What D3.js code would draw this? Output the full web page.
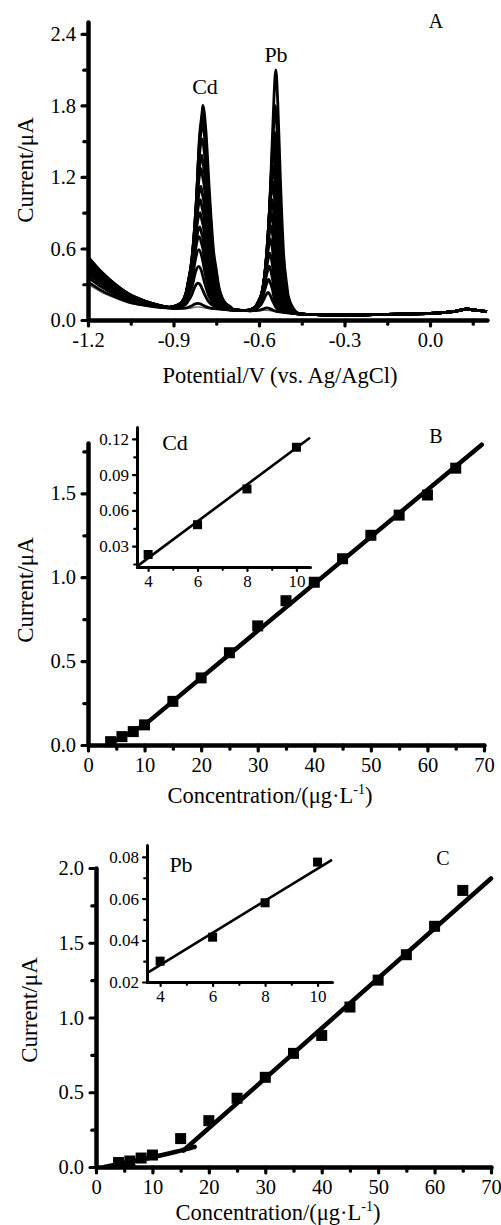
<!DOCTYPE html>
<html>
<head>
<meta charset="utf-8">
<script src="https://cdn.jsdelivr.net/npm/d3@7"></script>
<style>
  body { margin: 0; background: #fff; }
  svg text { font-family: "Liberation Serif", "Times New Roman", serif; fill: #000; }
</style>
</head>
<body>
<svg id="chart" width="501" height="1225"></svg>
<script>
// ---- panel A: stripping voltammograms (blank + 15 additions) ----
const blankCurve = [[-1.2, 0.30], [-1.15, 0.23], [-1.1, 0.18], [-1.05, 0.14], [-1.0, 0.12], [-0.95, 0.105],
  [-0.9, 0.095], [-0.85, 0.09], [-0.8, 0.09], [-0.75, 0.09], [-0.7, 0.085], [-0.65, 0.08], [-0.6, 0.075],
  [-0.55, 0.07], [-0.5, 0.06], [-0.45, 0.05], [-0.4, 0.045], [-0.3, 0.04], [-0.2, 0.045], [-0.1, 0.05],
  [0.0, 0.055], [0.08, 0.07], [0.13, 0.09], [0.17, 0.08], [0.2, 0.07]]
const tailShape = [[-1.2, 1], [-1.15, 0.72], [-1.1, 0.48], [-1.05, 0.3], [-1.0, 0.17], [-0.95, 0.08], [-0.9, 0.03], [-0.85, 0]]
const cdProfile = [[-0.11, 0], [-0.075, 0.03], [-0.055, 0.1], [-0.038, 0.25], [-0.022, 0.55], [-0.011, 0.86], [0, 1],
  [0.011, 0.87], [0.022, 0.6], [0.038, 0.28], [0.055, 0.12], [0.075, 0.04], [0.11, 0]]
const pbProfile = [[-0.085, 0], [-0.058, 0.04], [-0.042, 0.11], [-0.027, 0.3], [-0.016, 0.6], [-0.007, 0.87], [0, 1],
  [0.007, 0.86], [0.016, 0.55], [0.027, 0.25], [0.042, 0.08], [0.062, 0.02], [0.085, 0]]
const cdPeakV = [-0.815, -0.815, -0.814, -0.812, -0.811, -0.81, -0.808, -0.807, -0.806, -0.804, -0.803, -0.801, -0.8, -0.799, -0.798, -0.797]
const cdPeakI = [0.02, 0.05, 0.22, 0.36, 0.5, 0.61, 0.69, 0.81, 0.92, 1.03, 1.18, 1.29, 1.43, 1.57, 1.64, 1.71]
const pbPeakV = [-0.572, -0.571, -0.568, -0.566, -0.564, -0.562, -0.56, -0.558, -0.556, -0.554, -0.552, -0.55, -0.548, -0.546, -0.543, -0.541]
const pbPeakI = [0.01, 0.03, 0.16, 0.27, 0.38, 0.49, 0.61, 0.72, 0.83, 0.94, 1.09, 1.22, 1.37, 1.51, 1.73, 2.03]
const tailLift = [0, 0.02, 0.06, 0.09, 0.11, 0.13, 0.15, 0.16, 0.17, 0.18, 0.19, 0.2, 0.21, 0.22, 0.23, 0.23]
const potentialTicks = [-1.2, -0.9, -0.6, -0.3, 0.0]
const potentialMinor = [-1.05, -0.75, -0.45, -0.15, 0.15]
const currentTicksA = [0, 0.6, 1.2, 1.8, 2.4]
const currentMinorA = [0.3, 0.9, 1.5, 2.1]

// ---- panel B: Cd calibration ----
const concB = [4, 6, 8, 10, 15, 20, 25, 30, 35, 40, 45, 50, 55, 60, 65]
const currentB = [0.02, 0.05, 0.08, 0.12, 0.26, 0.40, 0.55, 0.71, 0.86, 0.97, 1.11, 1.25, 1.37, 1.49, 1.65]
const fitB = [[[4, 0.01], [10, 0.12]], [[10, 0.12], [69.6, 1.79]]]
const insetConcB = [4, 6, 8, 10]
const insetCurrentB = [0.023, 0.048, 0.078, 0.113]
const insetFitB = [[3.55, 0.013], [10.55, 0.121]]
const insetTicksYB = [0.03, 0.06, 0.09, 0.12]
const insetMinorYB = [0.015, 0.045, 0.075, 0.105]

// ---- panel C: Pb calibration ----
const concC = [4, 6, 8, 10, 15, 20, 25, 30, 35, 40, 45, 50, 55, 60, 65]
const currentC = [0.03, 0.04, 0.06, 0.08, 0.19, 0.31, 0.46, 0.60, 0.76, 0.88, 1.07, 1.25, 1.42, 1.61, 1.85]
const fitC = [[[1.5, 0], [6, 0.035], [10, 0.065], [14, 0.1], [17.5, 0.135]], [[15.5, 0.11], [70, 1.93]]]
const insetConcC = [4, 6, 8, 10]
const insetCurrentC = [0.030, 0.0415, 0.058, 0.0775]
const insetFitC = [[3.5, 0.0243], [10.55, 0.0786]]
const insetTicksYC = [0.02, 0.04, 0.06, 0.08]
const insetMinorYC = [0.03, 0.05, 0.07]

const concTicks = [0, 10, 20, 30, 40, 50, 60, 70]
const concMinor = [5, 15, 25, 35, 45, 55, 65]
const insetTicksX = [4, 6, 8, 10]
const insetMinorX = [5, 7, 9]

const FONT = '"Liberation Serif", "Times New Roman", serif'
const svg = d3.select('#chart').attr('font-family', FONT)
svg.append('rect').attr('width', 501).attr('height', 1225).attr('fill', '#fff')

// linear lookup in a list of read points
const lookup = (pts, x) => {
  if (x <= pts[0][0]) return pts[0][1]
  if (x >= pts[pts.length - 1][0]) return pts[pts.length - 1][1]
  let i = 1
  while (pts[i][0] < x) i++
  const a = pts[i - 1], b = pts[i]
  return a[1] + (b[1] - a[1]) * (x - a[0]) / (b[0] - a[0])
}

function drawAxis (g, gen, majors, minors, fmt, o) {
  const ax = g.append('g').attr('transform', o.t)
    .call(gen.tickValues(majors).tickFormat(fmt).tickSize(o.tick).tickSizeOuter(0).tickPadding(o.pad))
  ax.attr('font-family', FONT).attr('font-size', o.fs)
  ax.select('.domain').attr('stroke', '#000').attr('stroke-width', o.w).attr('stroke-linecap', 'round')
  ax.selectAll('.tick line').attr('stroke-width', o.tw).attr('stroke-linecap', 'round')
  ax.selectAll('text').style('font-size', o.fs + 'px').style('font-family', FONT).attr('fill', '#000')
  const mn = g.append('g').attr('transform', o.t)
    .call(gen.tickValues(minors).tickFormat('').tickSize(o.tick * 0.7).tickSizeOuter(0))
  mn.select('.domain').remove()
  mn.selectAll('.tick line').attr('stroke-width', o.tw).attr('stroke-linecap', 'round')
}

const hyphen = f => d => f(d).replace('\u2212', '-')
const f1 = hyphen(d3.format('.1f')), f2 = d3.format('.2f'), f0 = d3.format('d')
const mainAx = { tick: 6, pad: 6, w: 4.5, tw: 3.2, fs: 20.5 }
const insetAx = { tick: 4, pad: 4, w: 3, tw: 2.2, fs: 17 }

// ---------- panel A ----------
{
  const x = d3.scaleLinear().domain([-1.2, 0.2]).range([88, 487])
  const y = d3.scaleLinear().domain([0, 2.5]).range([320, 22])
  const g = svg.append('g')
  const line = d3.line().x(d => x(d[0])).y(d => y(d[1])).curve(d3.curveMonotoneX)
  cdPeakI.forEach((_, i) => {
    const xs = Array.from(new Set([
      ...blankCurve.map(d => d[0]), ...tailShape.map(d => d[0]),
      ...cdProfile.map(d => d[0] + cdPeakV[i]), ...pbProfile.map(d => d[0] + pbPeakV[i])
    ])).sort((a, b) => a - b)
    const pts = xs.map(v => [v,
      lookup(blankCurve, v) + tailLift[i] * lookup(tailShape, v) +
      cdPeakI[i] * lookup(cdProfile, v - cdPeakV[i]) + pbPeakI[i] * lookup(pbProfile, v - pbPeakV[i])])
    g.append('path').attr('d', line(pts)).attr('fill', 'none')
      .attr('stroke', i === 0 ? '#666' : '#000').attr('stroke-width', i === 0 ? 1.4 : 2.8)
  })
  drawAxis(g, d3.axisLeft(y), currentTicksA, currentMinorA, f1, { ...mainAx, t: 'translate(88,0)' })
  drawAxis(g, d3.axisBottom(x), potentialTicks, potentialMinor, f1, { ...mainAx, t: 'translate(0,320)' })
  g.append('text').attr('x', 280).attr('y', 383).attr('text-anchor', 'middle').style('font-size', '22.5px')
    .text('Potential/V (vs. Ag/AgCl)')
  g.append('text').attr('transform', 'translate(33,170) rotate(-90)').attr('text-anchor', 'middle')
    .style('font-size', '23px').text('Current/μA')
  g.append('text').attr('x', 205).attr('y', 94).attr('text-anchor', 'middle').style('font-size', '22px').text('Cd')
  g.append('text').attr('x', 276).attr('y', 62).attr('text-anchor', 'middle').style('font-size', '22px').text('Pb')
  g.append('text').attr('x', 436).attr('y', 28).attr('text-anchor', 'middle').style('font-size', '20px').text('A')
}

function calibration (o) {
  const g = svg.append('g')
  const x = d3.scaleLinear().domain([0, 70]).range(o.xr)
  const y = d3.scaleLinear().domain(o.yd).range(o.yr)
  const line = d3.line().x(d => x(d[0])).y(d => y(d[1])).curve(d3.curveMonotoneX)
  o.fit.forEach(seg => g.append('path').attr('d', line(seg)).attr('fill', 'none')
    .attr('stroke', '#000').attr('stroke-width', 4.5).attr('stroke-linecap', 'round'))
  g.selectAll('rect.pt').data(o.conc).enter().append('rect')
    .attr('x', d => x(d) - 5.5).attr('y', (d, i) => y(o.cur[i]) - 5.5)
    .attr('width', 11).attr('height', 11).attr('fill', '#000')
  drawAxis(g, d3.axisLeft(y), o.yt, o.ym, f1, { ...mainAx, t: `translate(${o.xr[0]},0)` })
  drawAxis(g, d3.axisBottom(x), concTicks, concMinor, f0, { ...mainAx, t: `translate(0,${o.yr[0]})` })
  const t = g.append('text').attr('x', o.tx).attr('y', o.ty).attr('text-anchor', 'middle').style('font-size', '22.5px')
  t.append('tspan').text('Concentration/(μg·L')
  t.append('tspan').attr('dy', -9).style('font-size', '14px').text('-1')
  t.append('tspan').attr('dy', 9).text(')')
  g.append('text').attr('transform', `translate(${o.yl[0]},${o.yl[1]}) rotate(-90)`).attr('text-anchor', 'middle')
    .style('font-size', '23px').text('Current/μA')
  g.append('text').attr('x', o.letter[0]).attr('y', o.letter[1]).attr('text-anchor', 'middle')
    .style('font-size', '20px').text(o.letter[2])

  // inset
  const ix = d3.scaleLinear().domain(o.ixd).range(o.ixr)
  const iy = d3.scaleLinear().domain(o.iyd).range(o.iyr)
  const il = d3.line().x(d => ix(d[0])).y(d => iy(d[1]))
  g.append('path').attr('d', il(o.ifit)).attr('fill', 'none').attr('stroke', '#000').attr('stroke-width', 2.6)
  g.selectAll('rect.ipt').data(o.iconc).enter().append('rect')
    .attr('x', d => ix(d) - 4.5).attr('y', (d, i) => iy(o.icur[i]) - 4.5)
    .attr('width', 9).attr('height', 9).attr('fill', '#000')
  drawAxis(g, d3.axisLeft(iy), o.iyt, o.iym, f2, { ...insetAx, t: `translate(${o.ixr[0]},0)` })
  drawAxis(g, d3.axisBottom(ix), insetTicksX, insetMinorX, f0, { ...insetAx, t: `translate(0,${o.iyr[0]})` })
  g.append('text').attr('x', o.ilab[0]).attr('y', o.ilab[1]).attr('text-anchor', 'middle')
    .style('font-size', '22px').text(o.ilab[2])
}

calibration({
  xr: [88, 484], yd: [0, 1.8], yr: [745, 443], yt: [0, 0.5, 1.0, 1.5], ym: [0.25, 0.75, 1.25, 1.75],
  conc: concB, cur: currentB, fit: fitB, tx: 270, ty: 803, yl: [33, 590], letter: [436, 443, 'B'],
  ixd: [3.55, 10.55], ixr: [137, 310], iyd: [0.0125, 0.13], iyr: [567, 427], iyt: insetTicksYB, iym: insetMinorYB,
  iconc: insetConcB, icur: insetCurrentB, ifit: insetFitB, ilab: [175, 450, 'Cd']
})

calibration({
  xr: [96, 491], yd: [0, 2.0], yr: [1167, 868], yt: [0, 0.5, 1.0, 1.5, 2.0], ym: [0.25, 0.75, 1.25, 1.75],
  conc: concC, cur: currentC, fit: fitC, tx: 278, ty: 1220, yl: [37, 1010], letter: [443, 865, 'C'],
  ixd: [3.5, 10.55], ixr: [147, 332], iyd: [0.02, 0.0857], iyr: [982, 845], iyt: insetTicksYC, iym: insetMinorYC,
  iconc: insetConcC, icur: insetCurrentC, ifit: insetFitC, ilab: [181, 872, 'Pb']
})
</script>
</body>
</html>
